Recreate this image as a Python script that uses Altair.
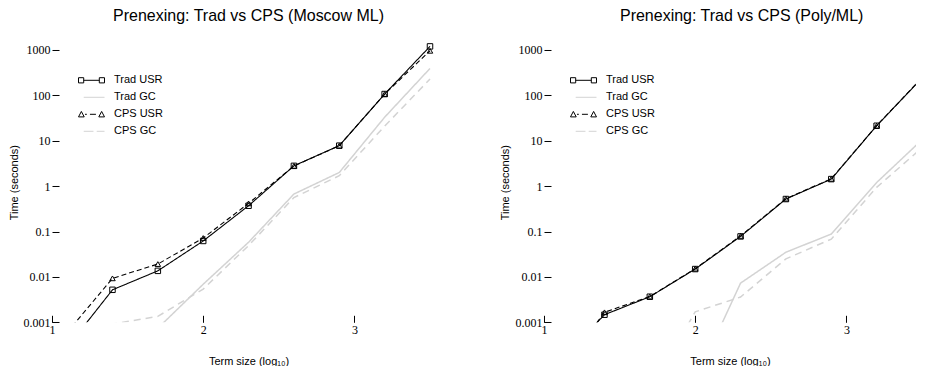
import altair as alt
import pandas as pd

# x positions: term size on a log10 scale
log_size = [1.1, 1.4, 1.7, 2.0, 2.3, 2.6, 2.9, 3.2, 3.5]

series_names = ["Trad USR", "Trad GC", "CPS USR", "CPS GC"]

# Moscow ML timings (seconds)
mosml_trad_usr = [0.00028, 0.0052, 0.0136, 0.062, 0.37, 2.8, 7.8, 107, 1200]
mosml_trad_gc = [0.0001, 0.0002, 0.00074, 0.0069, 0.058, 0.67, 2.0, 33, 392]
mosml_cps_usr = [0.0006, 0.0093, 0.0192, 0.072, 0.417, 2.8, 7.8, 107, 960]
mosml_cps_gc = [0.0003, 0.00092, 0.00135, 0.0054, 0.049, 0.56, 1.7, 21, 229]

# Poly/ML timings (seconds)
poly_trad_usr = [0.00013, 0.00147, 0.00366, 0.0149, 0.078, 0.52, 1.43, 21.4, 240]
poly_trad_gc = [0.00003, 0.00004, 0.00005, 0.00005, 0.0073, 0.035, 0.088, 1.2, 10.5]
poly_cps_usr = [0.00007, 0.00166, 0.0037, 0.0152, 0.080, 0.53, 1.45, 21.5, 245]
poly_cps_gc = [0.00002, 0.00003, 0.00003, 0.0017, 0.0036, 0.025, 0.068, 0.94, 7]

y_ticks = [0.001, 0.01, 0.1, 1, 10, 100, 1000]
x_ticks = [1, 2, 3]

GRAY = "#d3d3d3"
styles = {
    "Trad USR": dict(color="black", dash=[1, 0], width=1.1, shape="square"),
    "Trad GC": dict(color=GRAY, dash=[1, 0], width=1.5, shape=None),
    "CPS USR": dict(color="black", dash=[5, 3], width=1.1, shape="triangle-up"),
    "CPS GC": dict(color=GRAY, dash=[7, 5], width=1.5, shape=None),
}

# legend glyphs (R style: marker - line - marker)
legend_paths = [
    "M-1,-0.2H-0.6V0.2H-1Z M-0.6,0H0.6 M0.6,-0.2H1V0.2H0.6Z",
    "M-0.6,0H1",
    "M-1,0.2L-0.78,-0.22L-0.56,0.2Z M-0.5,0H-0.36 M-0.12,0H0.34 M0.56,0.2L0.78,-0.22L1,0.2Z",
    "M-0.6,0H0.15 M0.4,0H1",
]
legend_colors = [styles[n]["color"] for n in series_names]


def make_df(values):
    rows = []
    for name, vals in zip(series_names, values):
        for x, v in zip(log_size, vals):
            rows.append({"logsize": x, "time": v, "series": name})
    return pd.DataFrame(rows)


mosml_df = make_df([mosml_trad_usr, mosml_trad_gc, mosml_cps_usr, mosml_cps_gc])
poly_df = make_df([poly_trad_usr, poly_trad_gc, poly_cps_usr, poly_cps_gc])
legend_df = pd.DataFrame({"series": series_names})

SERIF = "Liberation Serif"
SANS = "Liberation Sans"
PX_PER_UNIT = 151.2


def panel(df, title, width, title_dx):
    xmax = 1 + width / PX_PER_UNIT
    xscale = alt.Scale(domain=[1, xmax], nice=False, zero=False)
    yscale = alt.Scale(type="log", domain=[0.001, 1500], nice=False)
    xaxis = alt.Axis(
        values=x_ticks, format="d", title="Term size (log\u2081\u2080)",
        domain=False, grid=False, tickSize=7, offset=-7, labelPadding=2,
        labelFlush=False, labelFont=SERIF, labelFontSize=12, labelColor="black",
        tickColor="black", tickWidth=1, titleFont=SANS, titleFontSize=11,
        titleFontWeight="normal", titleColor="black", titlePadding=20,
    )
    yaxis = alt.Axis(
        values=y_ticks, format="~g", title="Time (seconds)",
        domain=False, grid=False, tickSize=7, offset=-7, labelPadding=2,
        labelFont=SERIF, labelFontSize=12, labelColor="black",
        tickColor="black", tickWidth=1, titleFont=SANS, titleFontSize=11,
        titleFontWeight="normal", titleColor="black", titlePadding=4,
    )
    layers = []
    for name in series_names:
        st = styles[name]
        base = alt.Chart(df).transform_filter(alt.datum.series == name)
        enc = dict(
            x=alt.X("logsize:Q", scale=xscale, axis=xaxis),
            y=alt.Y("time:Q", scale=yscale, axis=yaxis),
        )
        layers.append(
            base.mark_line(clip=True, color=st["color"], strokeDash=st["dash"],
                           strokeWidth=st["width"]).encode(**enc)
        )
        if st["shape"]:
            layers.append(
                base.mark_point(clip=True, shape=st["shape"], filled=False, size=30,
                                color="black", strokeWidth=1, opacity=1).encode(**enc)
            )
    leg = alt.Legend(
        orient="none", legendX=26, legendY=30, title=None, padding=0,
        labelFont=SANS, labelFontSize=11, labelColor="black", labelOffset=9,
        symbolSize=676, symbolStrokeWidth=1, symbolOpacity=1, symbolOffset=0,
        clipHeight=16.6, rowPadding=0,
    )
    legend_layer = alt.Chart(legend_df).mark_point(filled=False, opacity=0).encode(
        shape=alt.Shape("series:N", scale=alt.Scale(domain=series_names, range=legend_paths), legend=leg),
        color=alt.Color("series:N", scale=alt.Scale(domain=series_names, range=legend_colors), legend=leg),
    )
    layers.append(legend_layer)
    return alt.layer(*layers).properties(
        width=width, height=280.3,
        title=alt.TitleParams(title, font=SANS, fontSize=16, fontWeight="normal",
                              color="black", anchor="middle", frame="group",
                              baseline="top", offset=17.8, dx=title_dx),
    )


left = panel(mosml_df, "Prenexing: Trad vs CPS (Moscow ML)", 393.1, 0)
right = panel(poly_df, "Prenexing: Trad vs CPS (Poly/ML)", 372, 11.7)

chart = (
    alt.hconcat(left, right, spacing=54)
    .resolve_legend(shape="independent", color="independent")
    .resolve_scale(shape="independent", color="independent")
    .properties(padding={"left": 0, "top": 0, "right": 0, "bottom": 0})
    .configure_view(stroke=None)
)

chart.save("out.html", embed_options={"renderer": "svg", "actions": False})
